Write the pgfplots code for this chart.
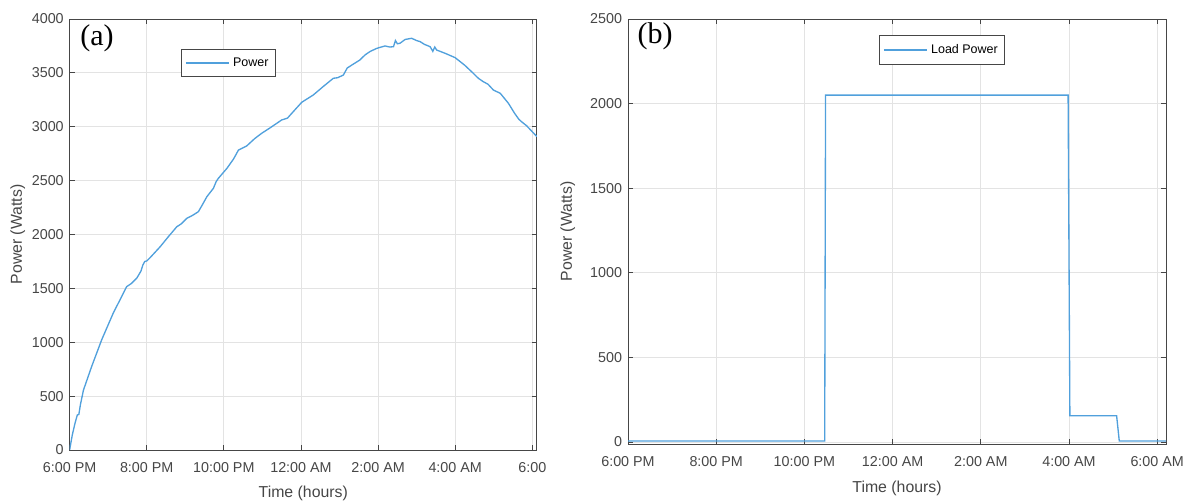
\documentclass[border=0pt]{standalone}
\usepackage{pgfplots}
\pgfplotsset{compat=1.18}
\usepackage{fontspec}
\setmainfont{Liberation Sans}
\newfontfamily\seriffont{Liberation Serif}
\definecolor{mblue}{RGB}{80,160,220}
\definecolor{axgray}{RGB}{70,70,70}
\pgfplotsset{
  mystyle/.style={
    scale only axis,
    anchor=south west,
    axis line style={axgray, line width=0.6pt},
    every tick/.style={axgray, line width=0.5pt},
    major tick length=3pt,
    tick align=inside,
    xtick pos=both, ytick pos=both,
    grid=major,
    major grid style={gray!22, line width=0.5pt},
    tick label style={font=\fontsize{8.6}{10}\selectfont, text=axgray},
    /pgf/number format/assume math mode=true,
    label style={font=\fontsize{9.5}{11}\selectfont, text=axgray},
    xmin=0,
    xtick={0,2,4,6,8,10,12},
    scaled y ticks=false,
    yticklabel style={/pgf/number format/fixed, /pgf/number format/1000 sep={}},
    xticklabel style={yshift=-4pt},
    legend cell align=left,
    legend style={font=\fontsize{7.5}{9}\selectfont, draw=axgray, line width=0.6pt, inner xsep=2pt, inner ysep=3pt, anchor=center},
    legend image code/.code={\draw[mblue, line width=0.7pt] (0pt,0pt) -- (26pt,0pt);},
  }
}
\begin{document}
\begin{tikzpicture}
\useasboundingbox (0,0) rectangle (718.8pt,300.6pt);
\begin{axis}[mystyle,
  at={(41.76pt,30.6pt)},
  width=280.4pt, height=258.6pt,
  xmax=12.12, ymin=0, ymax=4000,
  ytick={0,500,...,4000},
  xticklabels={6:00 PM,8:00 PM,10:00 PM,12:00 AM,2:00 AM,4:00 AM,6:00},
  xlabel={Time (hours)}, ylabel={Power (Watts)},
  xlabel style={at={(axis description cs:0.5,-0.1)}, anchor=center},
  ylabel style={at={(axis description cs:-0.111,0.5)}, anchor=center},
  legend style={at={(axis description cs:0.34,0.898)}},
]
\addplot[mblue, line width=0.8pt] coordinates {
(0,0) (0.07,140) (0.14,248) (0.2,325) (0.24,330) (0.28,420) (0.36,557) (0.57,773)
(0.83,1021) (1.13,1269) (1.48,1516) (1.6,1545) (1.74,1594) (1.85,1660) (1.90,1717)
(1.95,1750) (2.0,1754) (2.1,1790) (2.35,1887) (2.55,1975) (2.78,2072) (2.9,2100)
(3.04,2150) (3.2,2180) (3.34,2212) (3.45,2280) (3.56,2351) (3.73,2429) (3.8,2490)
(3.86,2522) (4.08,2614) (4.25,2700) (4.38,2784) (4.59,2821) (4.8,2890) (4.98,2939)
(5.2,2990) (5.50,3063) (5.65,3080) (5.80,3140) (6.02,3227) (6.32,3295) (6.6,3380)
(6.84,3450) (6.95,3455) (7.10,3480) (7.2,3545) (7.32,3573) (7.53,3620) (7.66,3666)
(7.8,3700) (7.97,3728) (8.18,3750) (8.30,3740) (8.40,3743) (8.45,3800) (8.50,3770)
(8.57,3775) (8.7,3810) (8.87,3821) (9.0,3800) (9.09,3790) (9.2,3765) (9.35,3743)
(9.42,3700) (9.47,3740) (9.52,3712) (9.75,3680) (10.00,3641) (10.25,3570) (10.47,3496)
(10.6,3450) (10.73,3418) (10.85,3395) (10.99,3341) (11.17,3310) (11.38,3218)
(11.54,3125) (11.65,3070) (11.72,3047) (11.85,3010) (12.12,2908)
};
\addlegendentry{Power}
\end{axis}
\begin{axis}[mystyle,
  at={(376.8pt,34.2pt)},
  width=322.8pt, height=255pt,
  xmax=12.2, ymin=-12, ymax=2500,
  ytick={0,500,...,2500},
  xticklabels={6:00 PM,8:00 PM,10:00 PM,12:00 AM,2:00 AM,4:00 AM,6:00 AM},
  xlabel={Time (hours)}, ylabel={Power (Watts)},
  xlabel style={at={(axis description cs:0.5,-0.1035)}, anchor=center},
  ylabel style={at={(axis description cs:-0.112,0.5)}, anchor=center},
  legend style={at={(axis description cs:0.584,0.927)}},
]
\addplot[mblue, line width=0.8pt] coordinates {
(0,6) (4.46,6) (4.48,2050) (9.98,2050) (10.02,155) (11.08,155) (11.14,6) (12.2,6)
};
\addlegendentry{Load Power}
\end{axis}
\node[font=\seriffont\fontsize{18}{20}\selectfont] at (58.2pt,277.8pt) {(a)};
\node[font=\seriffont\fontsize{18}{20}\selectfont] at (393pt,279pt) {(b)};
\end{tikzpicture}
\end{document}
